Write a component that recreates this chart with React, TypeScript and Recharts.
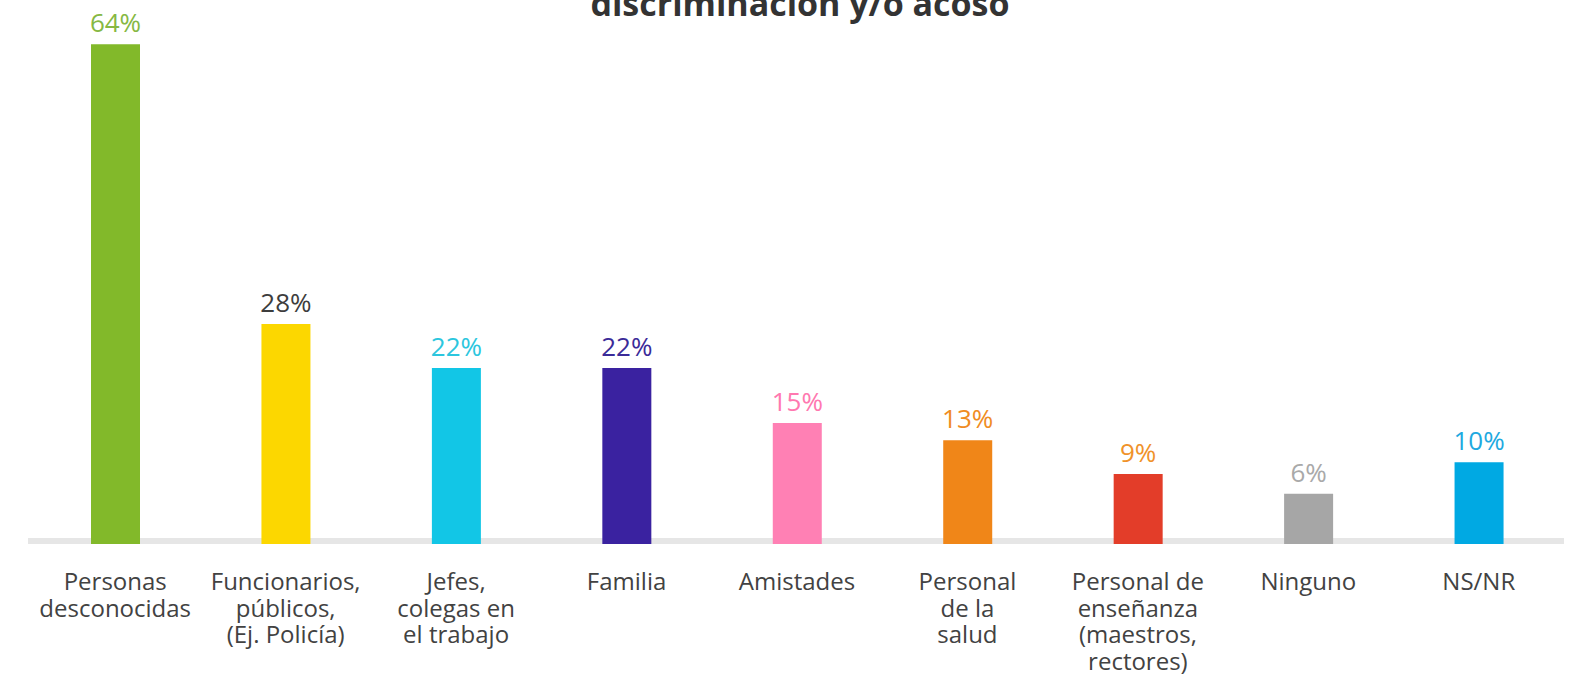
import React from 'react';
import { BarChart, Bar, XAxis, YAxis, Cell, LabelList } from 'recharts';

const categories = [
  'Personas\ndesconocidas',
  'Funcionarios,\npúblicos,\n(Ej. Policía)',
  'Jefes,\ncolegas en\nel trabajo',
  'Familia',
  'Amistades',
  'Personal\nde la\nsalud',
  'Personal de\nenseñanza\n(maestros,\nrectores)',
  'Ninguno',
  'NS/NR',
];

const values = [63.6, 28.0, 22.4, 22.4, 15.4, 13.2, 8.9, 6.4, 10.4];

const barColors = ['#82b92a', '#fcd700', '#12c6e6', '#3a22a0', '#ff80b4', '#f08618', '#e33d29', '#a6a6a6', '#00a9e3'];
const labelColors = ['#86b843', '#3d3d3d', '#2cc6de', '#3b2b98', '#ff78b0', '#f08c22', '#f0922a', '#a9a9a9', '#1ea9e0'];

const titleText = 'discriminación y/o acoso';

const data = categories.map((name, i) => ({ name, value: values[i], idx: i }));

const CategoryTick = (props: any) => {
  const { x, y, payload } = props;
  const lines = String(payload.value).split('\n');
  return (
    <g>
      <text
        x={x}
        y={y + 46}
        textAnchor="middle"
        fill="#424242"
        fontSize={24}
        fontFamily="'Open Sans', sans-serif"
      >
        {lines.map((l, i) => (
          <tspan key={i} x={x} dy={i === 0 ? 0 : 26.5}>
            {l}
          </tspan>
        ))}
      </text>
    </g>
  );
};

const ValueLabel = (props: any) => {
  const { x, y, width, value, index } = props;
  return (
    <text
      x={Number(x) + Number(width) / 2}
      y={Number(y) - 12}
      textAnchor="middle"
      fill={labelColors[index]}
      fontSize={26}
      fontFamily="'Open Sans', sans-serif"
    >
      {Math.round(Number(value)) + '%'}
    </text>
  );
};

export default function App() {
  return (
    <div style={{ position: 'absolute', left: 0, top: 0, width: 1579, height: 677, background: '#fff' }}>
      {/* background layer: baseline rule drawn by the axis */}
      <div style={{ position: 'absolute', left: 0, top: 0 }}>
        <BarChart
          width={1579}
          height={677}
          data={data}
          margin={{ top: 41, right: 15, bottom: 0, left: 28 }}
        >
          <XAxis
            dataKey="name"
            interval={0}
            height={136}
            tickLine={false}
            tick={false}
            axisLine={{ stroke: '#e6e6e6', strokeWidth: 6 }}
          />
          <YAxis hide domain={[0, 64]} />
        </BarChart>
      </div>
      <svg
        width={1579}
        height={677}
        style={{ position: 'absolute', left: 0, top: 0, pointerEvents: 'none' }}
      >
        <text
          x={800}
          y={16}
          textAnchor="middle"
          fill="#333333"
          fontSize={34}
          fontWeight={700}
          fontFamily="'Open Sans', sans-serif"
        >
          {titleText}
        </text>
      </svg>
      <div style={{ position: 'absolute', left: 0, top: 0 }}>
        <BarChart
          width={1579}
          height={677}
          data={data}
          margin={{ top: 41, right: 15, bottom: 0, left: 30 }}
          barCategoryGap={0}
        >
          <XAxis
            dataKey="name"
            interval={0}
            height={133}
            tickLine={false}
            tickSize={0}
            tickMargin={0}
            axisLine={false}
            tick={<CategoryTick />}
          />
          <YAxis hide domain={[0, 64]} />
          <Bar dataKey="value" barSize={49} isAnimationActive={false}>
            {data.map((d, i) => (
              <Cell key={i} fill={barColors[i]} />
            ))}
            <LabelList dataKey="value" content={<ValueLabel />} />
          </Bar>
        </BarChart>
      </div>
    </div>
  );
}
